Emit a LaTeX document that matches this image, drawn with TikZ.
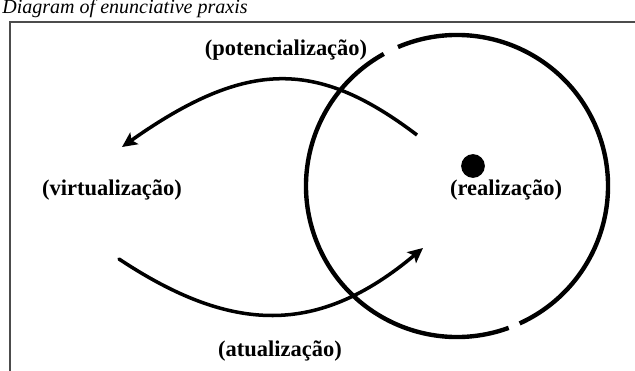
\documentclass[tikz,border=0pt]{standalone}
\usepackage{fontspec}
\setmainfont{Liberation Serif}
\usetikzlibrary{positioning, arrows.meta}

\begin{document}
\begin{tikzpicture}[
    x=0.02cm, y=-0.02cm,
    % 通用样式
    phase/.style={font=\bfseries\fontsize{12.8}{14}\selectfont, inner sep=1pt},
    ring/.style={line width=2.5pt, draw=black},
    dot/.style={circle, fill=black, inner sep=0pt, minimum size=13.5pt},
    frame/.style={draw=black!70, line width=0.6pt},
    % 箭头样式
    myarrow/.style={-{Stealth[length=8.5pt, width=8pt, inset=1.8pt]}, line width=2pt}
]

\useasboundingbox (0,0) rectangle (635,371);

% ====================
% 标题与边框
% ====================
\node[anchor=base west, inner sep=0pt, font=\itshape\fontsize{11.4}{13}\selectfont] (title) at (2,14) {Diagram of enunciative praxis};
\draw[frame] (10,380) |- (640,22);

% ====================
% 圆环（两段）
% ====================
\coordinate (c) at (457,186);
\draw[ring] (c) ++(70:151) arc[start angle=70, end angle=241, radius=151];
\draw[ring] (c) ++(247:151) arc[start angle=247, end angle=425.5, radius=151];

\node[dot] (core) at (473,166) {};
\node[phase] (real) at (506,190) {(realização)};

% ====================
% 文字
% ====================
\node[phase] (pot) at (286,50) {(potencialização)};
\node[phase] (virt) at (112,190) {(virtualização)};
\node[phase] (atu) at (280,351) {(atualização)};

% ====================
% 弧形箭头
% ====================
\coordinate (potS) at (417,135);
\coordinate (potE) at (122,147);
\coordinate (atuS) at (119,259);
\coordinate (atuE) at (423,248);

\draw[myarrow] (potS) .. controls (318,60) and (248,58) .. (potE);
\draw[myarrow, line cap=round] (atuS) .. controls (232,334) and (318,336) .. (atuE);

\end{tikzpicture}
\end{document}
